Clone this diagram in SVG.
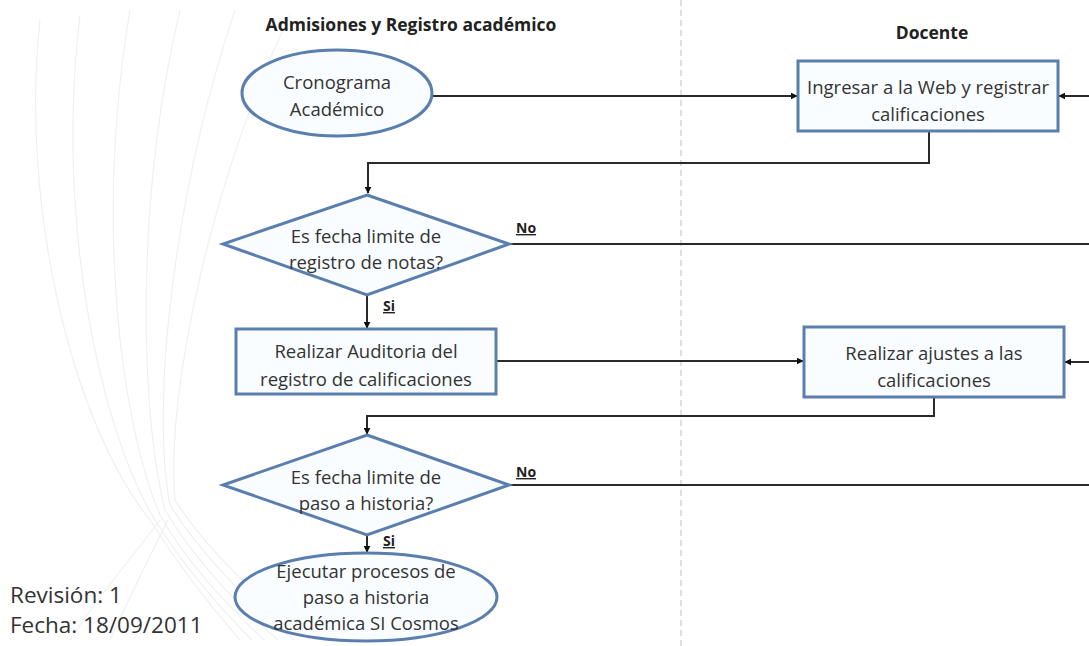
<svg xmlns="http://www.w3.org/2000/svg" width="1089" height="646" viewBox="0 0 1089 646">
  <style>
    .txt { font-family: "Open Sans", "Liberation Sans", sans-serif; font-size: 18.5px; fill: #333; text-anchor: middle; }
    .hdr { font-family: "Open Sans", "Liberation Sans", sans-serif; font-size: 17.5px; font-weight: bold; fill: #222; text-anchor: middle; }
    .lbl { font-family: "Open Sans", "Liberation Sans", sans-serif; font-size: 14px; font-weight: bold; fill: #222; text-decoration: underline; }
    .foot { font-family: "Open Sans", "Liberation Sans", sans-serif; font-size: 22.5px; fill: #333; }
    .shape { fill: #fafdff; stroke: #5a7fae; stroke-width: 3; }
    .conn { fill: none; stroke: #2a2a2a; stroke-width: 2; }
    .swirl { fill: none; stroke: #f0f0f0; stroke-width: 1.2; }
  </style>
  <defs>
    <marker id="arrow" viewBox="0 0 10 10" refX="9" refY="5" markerWidth="7" markerHeight="7" orient="auto" markerUnits="userSpaceOnUse">
      <path d="M0,0 L10,5 L0,10 z" fill="#111"/>
    </marker>
  </defs>

  <rect width="1089" height="646" fill="#ffffff"/>

  <!-- decorative background curves -->
  <g id="background">
    <path class="swirl" d="M40,20 C20,200 70,420 150,520 C175,560 205,600 240,640"/>
    <path class="swirl" d="M80,15 C55,220 100,430 155,520 C180,560 212,600 252,640"/>
    <path class="swirl" d="M130,10 C95,220 120,420 160,515 C185,560 222,600 264,640"/>
    <path class="swirl" d="M180,10 C135,200 140,410 165,510 C192,555 232,600 278,640"/>
    <path class="swirl" d="M235,10 C175,190 150,400 170,505 C198,550 245,600 294,640"/>
    <path class="swirl" d="M290,15 C215,170 165,390 175,500 C203,545 255,595 310,640"/>
    <path class="swirl" d="M70,640 C95,600 130,560 160,520"/>
    <path class="swirl" d="M110,640 C128,600 148,560 168,520"/>
  </g>

  <!-- lane divider -->
  <line x1="681" y1="0" x2="681" y2="646" stroke="#e0e0e0" stroke-width="2" stroke-dasharray="6,4"/>

  <!-- lane headers -->
  <text class="hdr" x="411" y="31">Admisiones y Registro académico</text>
  <text class="hdr" x="932" y="39">Docente</text>

  <!-- connectors -->
  <g id="connectors">
    <line class="conn" x1="432" y1="96" x2="797" y2="96" marker-end="url(#arrow)" stroke="#555"/>
    <line class="conn" x1="1089" y1="96" x2="1059" y2="96" marker-end="url(#arrow)" stroke="#666"/>
    <polyline class="conn" points="929,132 929,163 368,163 368,193" marker-end="url(#arrow)"/>
    <line class="conn" x1="509" y1="244" x2="1089" y2="244"/>
    <line class="conn" x1="367" y1="295" x2="367" y2="328" marker-end="url(#arrow)"/>
    <line class="conn" x1="497" y1="361" x2="803" y2="361" marker-end="url(#arrow)"/>
    <line class="conn" x1="1089" y1="362" x2="1065" y2="362" marker-end="url(#arrow)"/>
    <polyline class="conn" points="934,398 934,416 367,416 367,434" marker-end="url(#arrow)" stroke="#555"/>
    <line class="conn" x1="509" y1="485" x2="1089" y2="485"/>
    <line class="conn" x1="367" y1="536" x2="367" y2="552" marker-end="url(#arrow)"/>
    <text class="lbl" x="516" y="233">No</text>
    <text class="lbl" x="383" y="311">Si</text>
    <text class="lbl" x="516" y="477">No</text>
    <text class="lbl" x="383" y="546">Si</text>
  </g>

  <g id="cronograma">
    <ellipse class="shape" cx="337" cy="93" rx="95" ry="43"/>
    <text class="txt" x="337" y="89">Cronograma</text>
    <text class="txt" x="337" y="116">Académico</text>
  </g>

  <g id="ingresar">
    <rect class="shape" x="798" y="61" width="260" height="70"/>
    <text class="txt" x="928" y="94">Ingresar a la Web y registrar</text>
    <text class="txt" x="928" y="121">calificaciones</text>
  </g>

  <g id="decision-notas">
    <polygon class="shape" points="367,195 509,244 367,295 223,244" fill="#ffffff"/>
    <text class="txt" x="366" y="243">Es fecha limite de</text>
    <text class="txt" x="366" y="269">registro de notas?</text>
  </g>

  <g id="auditoria">
    <rect class="shape" x="236" y="329" width="260" height="65"/>
    <text class="txt" x="366" y="358">Realizar Auditoria del</text>
    <text class="txt" x="366" y="386">registro de calificaciones</text>
  </g>

  <g id="ajustes">
    <rect class="shape" x="804" y="327" width="260" height="70"/>
    <text class="txt" x="934" y="360">Realizar ajustes a las</text>
    <text class="txt" x="934" y="387">calificaciones</text>
  </g>

  <g id="decision-historia">
    <polygon class="shape" points="367,435 509,485 367,535 223,485" fill="#ffffff"/>
    <text class="txt" x="366" y="484">Es fecha limite de</text>
    <text class="txt" x="366" y="510">paso a historia?</text>
  </g>

  <g id="ejecutar">
    <ellipse class="shape" cx="366" cy="597" rx="131" ry="44"/>
    <text class="txt" x="366" y="578">Ejecutar procesos de</text>
    <text class="txt" x="366" y="604">paso a historia</text>
    <text class="txt" x="366" y="630">académica SI Cosmos</text>
  </g>

  <!-- revision footer -->
  <text class="foot" x="10" y="603">Revisión: 1</text>
  <text class="foot" x="10" y="633">Fecha: 18/09/2011</text>
</svg>
